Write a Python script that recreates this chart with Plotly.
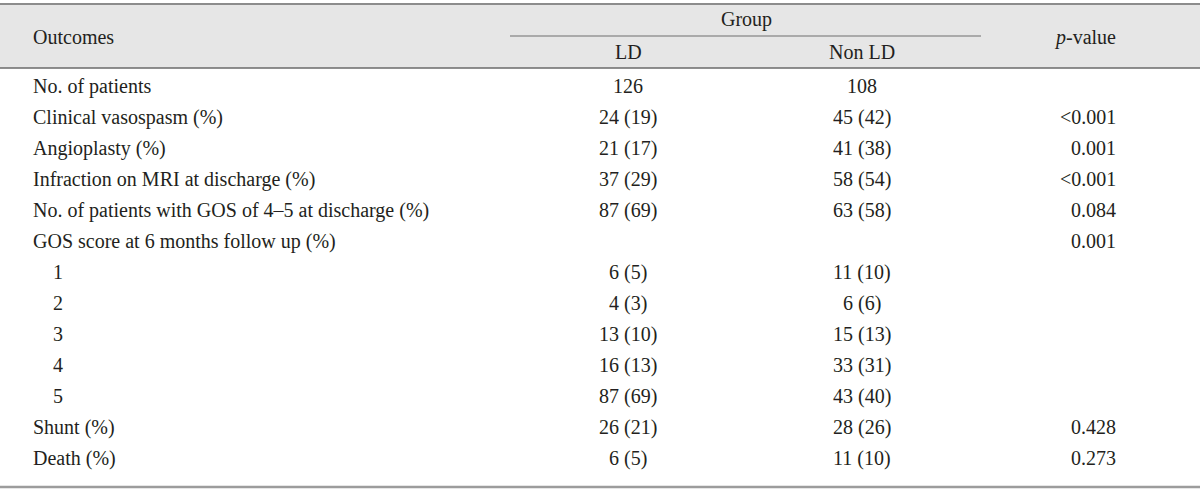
import plotly.graph_objects as go

row_labels = [
    "No. of patients",
    "Clinical vasospasm (%)",
    "Angioplasty (%)",
    "Infraction on MRI at discharge (%)",
    "No. of patients with GOS of 4–5 at discharge (%)",
    "GOS score at 6 months follow up (%)",
    "1", "2", "3", "4", "5",
    "Shunt (%)",
    "Death (%)",
]
indented = [False] * 6 + [True] * 5 + [False] * 2
ld_values = ["126", "24 (19)", "21 (17)", "37 (29)", "87 (69)", "",
             "6 (5)", "4 (3)", "13 (10)", "16 (13)", "87 (69)", "26 (21)", "6 (5)"]
nonld_values = ["108", "45 (42)", "41 (38)", "58 (54)", "63 (58)", "",
                "11 (10)", "6 (6)", "15 (13)", "33 (31)", "43 (40)", "28 (26)", "11 (10)"]
p_values = ["", "<0.001", "0.001", "<0.001", "0.084", "0.001",
            "", "", "", "", "", "0.428", "0.273"]
header_outcomes = "Outcomes"
header_group = "Group"
header_ld = "LD"
header_nonld = "Non LD"
header_p = "<i>p</i>-value"

FONT = "Liberation Serif"
FS = 20
TXT = "#231f20"

W, H = 1200, 491
row_px0, row_step = 86, 31
y_top = -row_px0 / row_step
y_bot = y_top + H / row_step

def ypx(p):
    return (p - row_px0) / row_step

x_label, x_indent, x_ld, x_nonld, x_p = 31, 51, 628, 862, 1118

fig = go.Figure()
fig.add_trace(go.Scatter(x=[600], y=[0], mode="markers", marker=dict(opacity=0),
                         hoverinfo="skip", showlegend=False))

ann = []
def A(x, y, text, xanchor):
    ann.append(dict(x=x, y=y, xref="x", yref="y", text=text, showarrow=False,
                    xanchor=xanchor, yanchor="middle",
                    font=dict(family=FONT, size=FS, color=TXT)))

for i, lab in enumerate(row_labels):
    A(x_indent if indented[i] else x_label, i, lab, "left")
    if ld_values[i]:
        A(x_ld, i, ld_values[i], "center")
    if nonld_values[i]:
        A(x_nonld, i, nonld_values[i], "center")
    if p_values[i]:
        A(x_p, i, p_values[i], "right")

A(x_label, ypx(37), header_outcomes, "left")
A((511 + 981) / 2, ypx(19), header_group, "center")
A(x_ld, ypx(52), header_ld, "center")
A(x_nonld, ypx(52), header_nonld, "center")
A(x_p, ypx(37), header_p, "right")

shapes = [
    dict(type="rect", xref="x", yref="y", x0=-20, x1=1220, y0=ypx(4), y1=ypx(68),
         fillcolor="#e6e6e6", line=dict(width=0), layer="below"),
    dict(type="line", xref="x", yref="y", x0=-20, x1=1220, y0=ypx(4), y1=ypx(4),
         line=dict(color="#8c8c8c", width=2)),
    dict(type="line", xref="x", yref="y", x0=-20, x1=1220, y0=ypx(68), y1=ypx(68),
         line=dict(color="#6a6a6a", width=1.5)),
    dict(type="line", xref="x", yref="y", x0=510, x1=981, y0=ypx(36), y1=ypx(36),
         line=dict(color="#6e6e6e", width=1.2)),
    dict(type="line", xref="x", yref="y", x0=-20, x1=1220, y0=ypx(487), y1=ypx(487),
         line=dict(color="#9c9c9c", width=2.5)),
]

fig.update_layout(
    width=W, height=H,
    margin=dict(l=0, r=0, t=0, b=0),
    paper_bgcolor="white", plot_bgcolor="white",
    xaxis=dict(range=[0, W], visible=False, fixedrange=True),
    yaxis=dict(range=[y_bot, y_top], visible=False, fixedrange=True),
    annotations=ann, shapes=shapes, showlegend=False,
)
fig.write_html("out.html",
               config={"displayModeBar": False, "staticPlot": True},
               post_script="document.body.style.margin='0';document.body.style.overflow='hidden';")
